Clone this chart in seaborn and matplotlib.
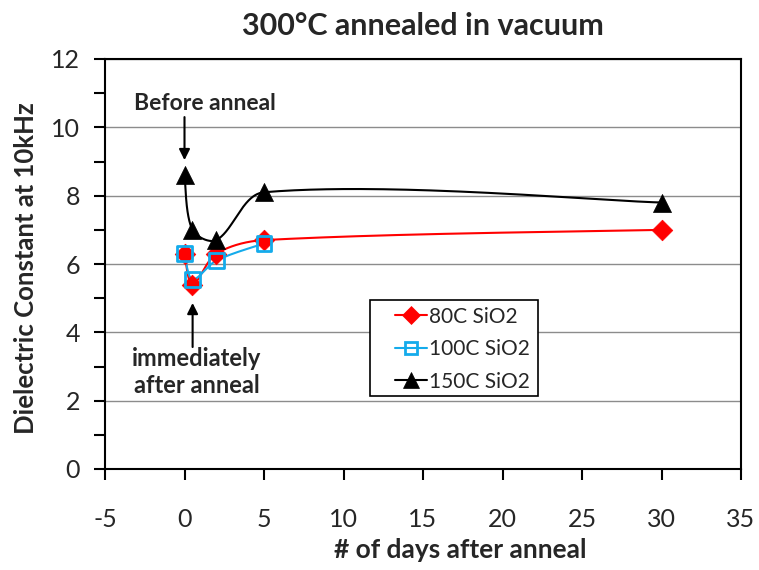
import numpy as np
import pandas as pd
import matplotlib
matplotlib.use("Agg")
import matplotlib.pyplot as plt
from matplotlib.lines import Line2D
from matplotlib.patches import Rectangle
import seaborn as sns

# Days after anneal and dielectric constant at 10 kHz for each SiO2 deposition temperature
days_80 = [0, 0.5, 2, 5, 30]
k_80 = [6.3, 5.4, 6.3, 6.7, 7.0]
days_100 = [0, 0.5, 2, 5]
k_100 = [6.3, 5.55, 6.1, 6.6]
days_150 = [0, 0.5, 2, 5, 30]
k_150 = [8.6, 7.0, 6.7, 8.1, 7.8]

series_names = ["80C SiO2", "100C SiO2", "150C SiO2"]

sns.set_style("white")
plt.rcParams["font.family"] = ["Lato", "DejaVu Sans"]
plt.rcParams["axes.unicode_minus"] = False

XLIM = (-5, 35)
YLIM = (0, 12)
AX_W_PX, AX_H_PX = 636, 410


def smooth_curve(x, y, n=80):
    """Smoothed line through every point: cubic Bezier segments whose control
    handles are scaled by neighbouring segment lengths (measured on screen)."""
    sx = AX_W_PX / (XLIM[1] - XLIM[0])
    sy = AX_H_PX / (YLIM[1] - YLIM[0])
    p = np.column_stack([np.asarray(x, float) * sx, np.asarray(y, float) * sy])
    m = len(p)
    out = []
    for i in range(m - 1):
        p0 = p[i - 1] if i > 0 else p[i]
        p1 = p[i]
        p2 = p[i + 1]
        p3 = p[i + 2] if i + 2 < m else p[i + 1]
        d01 = np.linalg.norm(p1 - p0)
        d12 = np.linalg.norm(p2 - p1)
        d23 = np.linalg.norm(p3 - p2)
        f1 = d12 / (d01 + d12) if d01 + d12 > 0 else 0
        f2 = d12 / (d12 + d23) if d12 + d23 > 0 else 0
        if i == 0:
            f1 = 0.5
        if i + 2 >= m:
            f2 = 0.5
        c1 = p1 + (p2 - p0) * f1 / 3.0
        c2 = p2 - (p3 - p1) * f2 / 3.0
        t = np.linspace(0, 1, n)[:, None]
        seg = ((1 - t) ** 3) * p1 + 3 * ((1 - t) ** 2) * t * c1 + 3 * (1 - t) * t ** 2 * c2 + t ** 3 * p2
        out.append(seg if i == 0 else seg[1:])
    seg = np.vstack(out)
    return seg[:, 0] / sx, seg[:, 1] / sy


fig = plt.figure(figsize=(7.59, 5.70), dpi=100)
ax = fig.add_axes([105 / 759, 1 - 469 / 570, AX_W_PX / 759, AX_H_PX / 570])

styles = [
    dict(x=days_80, y=k_80, color="#FF0000", marker="D", size=10.5, face="#FF0000", lw=0),
    dict(x=days_100, y=k_100, color="#14ABEB", marker="s", size=10.5, face="none", lw=2),
    dict(x=days_150, y=k_150, color="#000000", marker="^", size=13, face="#000000", lw=0),
]

handles = []
for name, st in zip(series_names, styles):
    cx, cy = smooth_curve(st["x"], st["y"])
    ax.plot(cx, cy, color=st["color"], lw=1.5, zorder=3)
    df = pd.DataFrame({"days": st["x"], "k": st["y"]})
    sns.scatterplot(data=df, x="days", y="k", ax=ax, marker=st["marker"],
                    s=st["size"] ** 2, facecolor=st["face"], edgecolor=st["color"],
                    linewidth=st["lw"] if st["lw"] else 0.5, zorder=4, legend=False)
    handles.append(Line2D([0], [0], color=st["color"], lw=1.5, marker=st["marker"],
                          markersize=st["size"] * 0.85, markerfacecolor=st["face"],
                          markeredgecolor=st["color"], markeredgewidth=st["lw"] if st["lw"] else 0.5,
                          label=name))

ax.set_xlim(*XLIM)
ax.set_ylim(*YLIM)
ax.set_xticks(np.arange(-5, 36, 5))
ax.set_yticks(np.arange(0, 13, 2))
ax.set_yticks(np.arange(1, 12, 2), minor=True)
ax.yaxis.grid(True, which="major", color="#8C8C8C", lw=1.0)
ax.set_axisbelow(True)
for side in ["left", "bottom", "right", "top"]:
    ax.spines[side].set_visible(True)
    ax.spines[side].set_color("black")
    ax.spines[side].set_linewidth(1.5)
ax.tick_params(axis="both", which="both", direction="out", length=8, width=1.5,
               color="black", labelsize=18)
ax.tick_params(axis="x", pad=20)
ax.tick_params(axis="y", pad=10)
ax.tick_params(axis="x", which="both", top=False, bottom=True)
ax.tick_params(axis="y", which="both", right=False, left=True)

ax.set_xlabel("# of days after anneal", fontsize=19, fontweight="bold")
ax.xaxis.set_label_coords(0.558, -0.168)
ax.set_ylabel("Dielectric Constant at 10kHz", fontsize=18.5, fontweight="bold")
ax.yaxis.set_label_coords(-0.105, 0.49)
ax.set_title("300°C annealed in vacuum", fontsize=22, fontweight="bold", pad=17)

ax.text(1.29, 10.71, "Before anneal", ha="center", va="center",
        fontsize=16.5, fontweight="bold", zorder=5)
ax.annotate("", xy=(0.0, 9.04), xytext=(0.0, 10.3),
            arrowprops=dict(arrowstyle="-|>", color="black", lw=1.5, shrinkA=0, shrinkB=0,
                            mutation_scale=16))
ax.text(0.79, 2.84, "immediately\nafter anneal", ha="center", va="center",
        fontsize=17, fontweight="bold", linespacing=1.2)
ax.annotate("", xy=(0.51, 4.86), xytext=(0.51, 3.57),
            arrowprops=dict(arrowstyle="-|>", color="black", lw=1.5, shrinkA=0, shrinkB=0,
                            mutation_scale=16))

# Legend box drawn as its own frame so entries can sit with wide inner margins
box_l, box_r = (370 - 105) / AX_W_PX, (538 - 105) / AX_W_PX
box_b, box_t = (469 - 396) / AX_H_PX, (469 - 300) / AX_H_PX
ax.add_patch(Rectangle((box_l, box_b), box_r - box_l, box_t - box_b, transform=ax.transAxes,
                       facecolor="white", edgecolor="black", lw=1.2, zorder=6))
leg = ax.legend(handles=handles, loc="upper left", bbox_to_anchor=(0.456, 0.396),
                borderaxespad=0, borderpad=0, fontsize=15, frameon=False,
                handlelength=1.55, handletextpad=0.1, labelspacing=0.6)
leg.set_zorder(7)

fig.savefig("out.png", dpi=100)
